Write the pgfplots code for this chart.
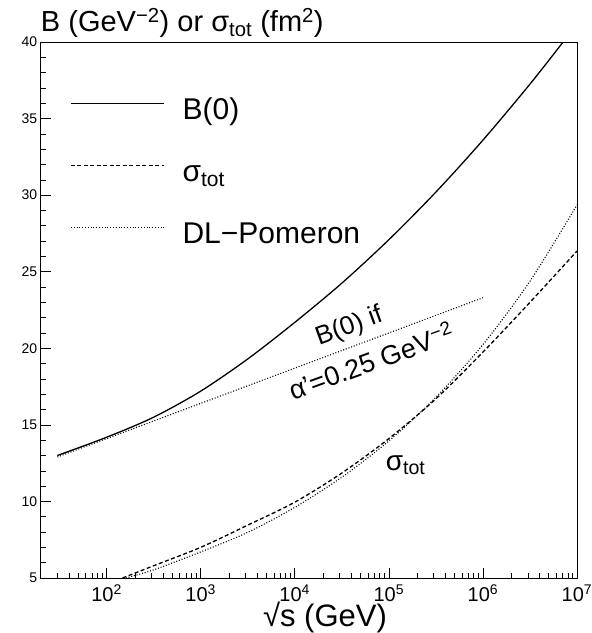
\documentclass[border=0pt]{standalone}
\usepackage{fontspec}
\setmainfont{Liberation Sans}
\usepackage{pgfplots}
\pgfplotsset{compat=1.18}

\pgfplotstableread{
x y
30 13.0
100 14.19
316.2 15.5
1000 17.2
3162 19.3
10000 21.69
31623 24.25
100000 27.09
316228 30.2
1000000 33.59
3162278 37.25
7500000 40.18
}\Bzero

\pgfplotstableread{
x y
30 12.9
1000000 23.3
}\Bdl

\pgfplotstableread{
x y
148 5.0
316.2 5.8
1000 7.0
3162 8.45
10000 9.95
31623 11.85
100000 14.1
316228 16.7
1000000 19.75
3162278 23.0
10000000 26.35
}\Stot

\pgfplotstableread{
x y
160 5.0
316.2 5.53
1000 6.7
3162 7.98
10000 9.61
31623 11.58
100000 13.95
316228 16.8
1000000 20.24
3162278 24.38
10000000 29.36
}\Sdl

\begin{document}
\begin{tikzpicture}
\path[use as bounding box] (-40.8pt,-55pt) rectangle (551.2pt,578pt);
\begin{axis}[
  at={(0pt,0pt)}, anchor=south west,
  scale only axis, width=536.2pt, height=536pt,
  xmode=log, xmin=20, xmax=1e7, ymin=5, ymax=40,
  axis line style={line width=0.8pt},
  tick align=inside, xtick pos=bottom, ytick pos=left,
  xtick={1e2,1e3,1e4,1e5,1e6,1e7},
  xticklabels={10\textsuperscript{2},10\textsuperscript{3},10\textsuperscript{4},10\textsuperscript{5},10\textsuperscript{6},10\textsuperscript{7}},
  minor xtick={30,40,50,60,70,80,90,200,300,400,500,600,700,800,900,2000,3000,4000,5000,6000,7000,8000,9000,20000,30000,40000,50000,60000,70000,80000,90000,200000,300000,400000,500000,600000,700000,800000,900000,2000000,3000000,4000000,5000000,6000000,7000000,8000000,9000000},
  ytick={5,10,15,20,25,30,35,40},
  yticklabels={5,10,15,20,25,30,35,40},
  minor y tick num=4,
  major tick length=10pt, minor tick length=5pt,
  every tick/.style={line width=0.6pt, black},
  xticklabel style={font=\fontsize{20}{20}\selectfont, yshift=-3pt},
  yticklabel style={font=\fontsize{14}{14}\selectfont},
  xlabel={√s (GeV)},
  xlabel style={at={(axis description cs:0.53,0)}, anchor=base, yshift=-48pt, font=\fontsize{31}{31}\selectfont},
  legend cell align=left,
  legend style={draw=none, fill=none, at={(axis description cs:0.049,0.901)}, anchor=north west,
    font=\fontsize{30}{30}\selectfont, row sep=34pt, column sep=0pt,
    nodes={inner sep=0pt, text height=22pt, text depth=6pt}},
  legend image code/.code={\draw[#1] (0pt,8pt) -- (93pt,8pt); \path (111pt,8pt);},
]
\addplot[black, line width=1.3pt, smooth] table[x=x,y=y] {\Bzero};
\addlegendentry{B(0)}
\addplot[black, line width=1.3pt, dash pattern=on 4pt off 2.5pt, smooth] table[x=x,y=y] {\Stot};
\addlegendentry{σ\textsubscript{tot}}
\addplot[black, line width=1.1pt, dash pattern=on 1pt off 1.8pt, smooth] table[x=x,y=y] {\Sdl};
\addlegendentry{DL−Pomeron}
\addplot[black, line width=1.1pt, dash pattern=on 1pt off 1.8pt, forget plot] table[x=x,y=y] {\Bdl};

\node[font=\fontsize{26}{26}\selectfont, rotate=20] at (axis cs:38000,21.4) {B(0) if};
\node[font=\fontsize{27}{27}\selectfont, rotate=20] at (axis cs:64600,19.2) {α'=0.25 GeV\textsuperscript{−2}};
\node[font=\fontsize{28}{28}\selectfont] at (axis cs:150700,12.38) {σ\textsubscript{tot}};
\end{axis}
\node[anchor=base west, font=\fontsize{29}{29}\selectfont, inner sep=0pt] at (0pt,546pt) {B (GeV\textsuperscript{−2}) or σ\textsubscript{tot} (fm\textsuperscript{2})};
\end{tikzpicture}
\end{document}
